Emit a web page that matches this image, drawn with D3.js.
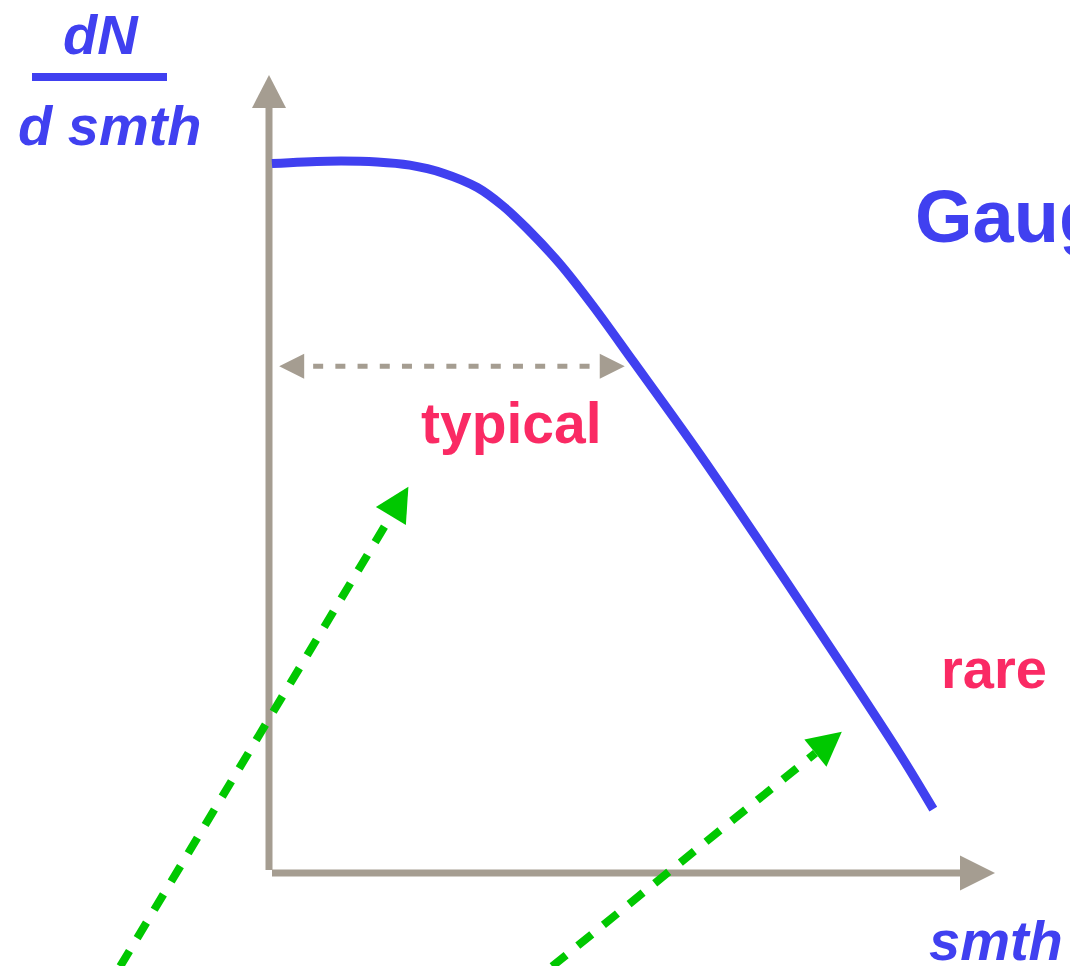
<!DOCTYPE html>
<html>
<head>
<meta charset="utf-8">
<script src="https://cdn.jsdelivr.net/npm/d3@7"></script>
<style>
  html, body { margin: 0; padding: 0; background: #fff; }
  svg { display: block; }
  text { font-family: "Liberation Sans", Arial, Helvetica, sans-serif; font-weight: bold; }
</style>
</head>
<body>
<div class="content"></div>
<script>
const WIDTH = 1070, HEIGHT = 966;
const BLUE = "#4040f0", PINK = "#fa2a64", GRAY = "#a59d91", GREEN = "#00c800";

// curve, in axis units (0..100 on both axes)
const curveX = [0.4, 8.0, 14.9, 19.4, 24.0, 28.7, 32.2, 35.5, 40.1, 44.6, 50.1, 59.4, 68.6, 77.7, 86.9, 91.5];
const curveY = [88.9, 89.2, 89.1, 88.7, 87.7, 85.9, 83.6, 80.8, 76.3, 71.1, 64.2, 52.4, 40.1, 27.7, 14.9, 8.0];

// "typical" range marker
const typicalRange = [1.4, 49.0];
const typicalLevel = 63.5;

// green pointer arrows [x1, y1, x2(tip), y2(tip)], axis units
const pointers = [
  [-20.5, -11.7, 19.2, 48.4],
  [39.0, -11.7, 78.9, 17.7]
];

const labels = {yTop: "dN", yBottom: "d smth", x: "smth", typical: "typical", rare: "rare", title: "Gauge"};

const svg = d3.select(".content").append("svg")
  .attr("width", WIDTH).attr("height", HEIGHT);

let x = d3.scaleLinear().domain([0, 100]).range([269, 995]);
let y = d3.scaleLinear().domain([0, 100]).range([873, 75]);

// line with a solid triangular head at (x2,y2)
function arrow(g, x1, y1, x2, y2, len, halfW, color, width, dash) {
  let dx = x2 - x1, dy = y2 - y1;
  let L = Math.sqrt(dx * dx + dy * dy);
  let ux = dx / L, uy = dy / L;
  let bx = x2 - ux * len, by = y2 - uy * len;
  g.append("line")
    .attr("x1", x1).attr("y1", y1).attr("x2", bx).attr("y2", by)
    .style("stroke", color).style("stroke-width", width)
    .style("stroke-dasharray", dash || null);
  head(g, x2, y2, ux, uy, len, halfW, color);
}
function head(g, tx, ty, ux, uy, len, halfW, color) {
  let bx = tx - ux * len, by = ty - uy * len;
  let nx = -uy, ny = ux;
  g.append("path")
    .attr("d", "M" + [tx, ty] + "L" + [bx + nx * halfW, by + ny * halfW] + "L" + [bx - nx * halfW, by - ny * halfW] + "Z")
    .style("fill", color);
}

// axes
let axes = svg.append("g").attr("class", "axes");
arrow(axes, x(0), y(0) - 3, x(0), y(100), 33, 17, GRAY, 7);
arrow(axes, x(0) + 3, y(0), x(100), y(0), 35, 17.5, GRAY, 7);

// curve
let line = d3.line()
  .x((d, i) => x(curveX[i]))
  .y((d, i) => y(curveY[i]))
  .curve(d3.curveCatmullRom.alpha(0.5));
svg.append("path")
  .attr("d", line(curveX))
  .style("fill", "none")
  .style("stroke", BLUE)
  .style("stroke-width", 9);

// typical range double arrow
let rng = svg.append("g");
let ry = y(typicalLevel), rx1 = x(typicalRange[0]), rx2 = x(typicalRange[1]);
rng.append("line")
  .attr("x1", rx1 + 25).attr("x2", rx2 - 25).attr("y1", ry).attr("y2", ry)
  .style("stroke", GRAY).style("stroke-width", 5)
  .style("stroke-dasharray", "10,12.2")
  .style("stroke-dashoffset", -9);
head(rng, rx1, ry, -1, 0, 25, 12.5, GRAY);
head(rng, rx2, ry, 1, 0, 25, 12.5, GRAY);

// labels
svg.append("text").attr("x", 63).attr("y", 54)
  .style("font-size", "56px").style("font-style", "italic").style("fill", BLUE)
  .text(labels.yTop);
svg.append("rect").attr("x", 32).attr("y", 73).attr("width", 135).attr("height", 8)
  .style("fill", BLUE);
svg.append("text").attr("x", 18).attr("y", 145)
  .style("font-size", "56px").style("font-style", "italic").style("fill", BLUE)
  .text(labels.yBottom);
svg.append("text").attr("x", 929).attr("y", 960)
  .style("font-size", "56px").style("font-style", "italic").style("fill", BLUE)
  .text(labels.x);
svg.append("text").attr("x", 915).attr("y", 242)
  .style("font-size", "74px").style("fill", BLUE)
  .text(labels.title);
svg.append("text").attr("x", 421).attr("y", 443)
  .style("font-size", "57px").style("fill", PINK)
  .text(labels.typical);
svg.append("text").attr("x", 941).attr("y", 688)
  .style("font-size", "56px").style("fill", PINK)
  .text(labels.rare);

// green pointers on top
let pg = svg.append("g").attr("class", "pointers");
pointers.forEach(p => {
  arrow(pg, x(p[0]), y(p[1]), x(p[2]), y(p[3]), 34, 17.5, GREEN, 8, "18,15");
});
</script>
</body>
</html>
